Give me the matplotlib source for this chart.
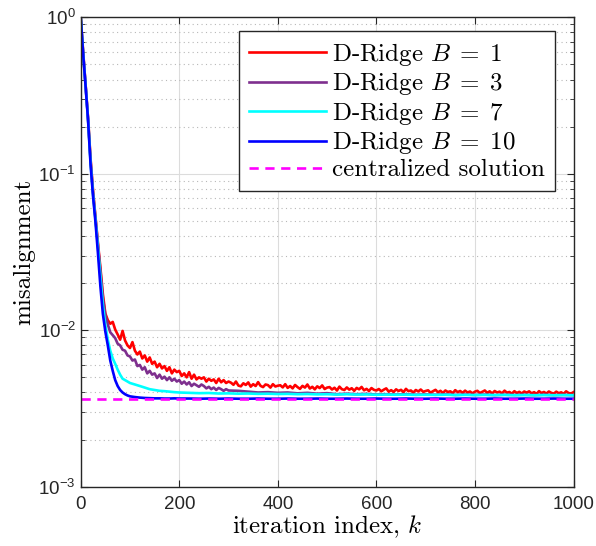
import matplotlib
matplotlib.use("Agg")
import matplotlib.pyplot as plt
from matplotlib.font_manager import FontProperties
from matplotlib.ticker import LogLocator, NullFormatter, FixedLocator

plt.rcParams['mathtext.fontset'] = 'custom'
plt.rcParams['mathtext.rm'] = 'Liberation Sans'
plt.rcParams['mathtext.it'] = 'Liberation Sans:italic'
plt.rcParams['font.family'] = ['Liberation Sans', 'DejaVu Sans']

# ---------------- data ----------------
k_red = list(range(0, 1001, 5))
red_e3 = [  # misalignment x 1e3
    1000, 600, 370, 225, 125, 78, 53, 36, 25, 17,
    12.8, 11.6, 11.0, 11.3, 10.1, 9.4, 8.7, 9.9, 8.6, 8.0,
    7.7, 8.4, 7.4, 7.0, 7.3, 6.6, 6.9, 6.3, 6.7, 6.1,
    6.3, 5.8, 6.1, 5.7, 5.9, 5.5, 5.8, 5.3, 5.6, 5.4,
    5.5, 5.1, 5.3, 5.0, 5.4, 4.9, 5.2, 4.85, 5.0, 4.9,
    5.0, 4.7, 4.9, 4.75, 4.85, 4.6, 4.9, 4.65, 4.8, 4.6,
    4.7,
    4.62, 4.48, 4.70, 4.43, 4.38, 4.58, 4.47, 4.64, 4.36, 4.52,
    4.40, 4.66, 4.41, 4.33, 4.50, 4.46, 4.30, 4.52, 4.37, 4.42,
    4.45, 4.31, 4.52, 4.28, 4.40, 4.25, 4.47, 4.33, 4.22, 4.41,
    4.30, 4.50, 4.24, 4.35, 4.19, 4.38, 4.27, 4.44, 4.21, 4.30,
    4.33, 4.18, 4.29, 4.12, 4.36, 4.20, 4.15, 4.31, 4.17, 4.26,
    4.10, 4.28, 4.19, 4.34, 4.13, 4.22, 4.09, 4.27, 4.16, 4.12,
    4.21, 4.07, 4.17, 4.25, 4.05, 4.14, 4.03, 4.19, 4.09, 4.16,
    4.02, 4.22, 4.08, 4.12, 4.00, 4.15, 4.06, 4.18, 4.04, 4.09,
    4.13, 3.99, 4.08, 4.16, 4.01, 4.10, 3.97, 4.12, 4.03, 4.07,
    3.96, 4.14, 4.02, 4.09, 3.98, 4.11, 4.00, 4.06, 3.95, 4.05,
    4.10, 3.97, 4.04, 4.12, 3.98, 4.07, 3.94, 4.09, 4.00, 4.05,
    3.95, 4.11, 3.99, 4.03, 3.93, 4.08, 3.97, 4.04, 3.94, 4.06,
    3.99, 4.07, 3.95, 4.02, 3.92, 4.08, 3.97, 4.03, 3.94, 4.06,
    3.98, 3.93, 4.05, 3.96, 4.01, 3.92, 4.07, 3.97, 3.94, 4.02,
]

k_purple = list(range(0, 301, 5)) + list(range(320, 1001, 20))
purple_e3 = [
    1000, 590, 365, 222, 122, 76, 52, 35, 24, 16,
    12.5, 10.9, 9.7, 9.3, 8.9, 8.2, 8.0, 7.5, 7.4, 6.9,
    6.8, 6.4, 6.5, 5.9, 6.0, 5.6, 5.8, 5.3, 5.5, 5.2,
    5.3, 4.95, 5.2, 4.9, 5.05, 4.8, 5.0, 4.75, 4.9, 4.7,
    4.8, 4.55, 4.7, 4.5, 4.65, 4.4, 4.55, 4.45, 4.35, 4.5,
    4.4, 4.25, 4.35, 4.2, 4.3, 4.15, 4.28, 4.2, 4.1, 4.2,
    4.12,
    4.10, 4.05, 4.00, 4.02, 3.98, 4.00, 3.95, 3.98, 3.93, 3.96,
    3.90, 3.93, 3.90, 3.92, 3.88, 3.90, 3.88, 3.90, 3.87, 3.89,
    3.87, 3.89, 3.86, 3.88, 3.86, 3.88, 3.85, 3.87, 3.86, 3.87,
    3.85, 3.87, 3.85, 3.86, 3.85,
]

k_smooth = list(range(0, 101, 5)) + list(range(110, 201, 10)) + list(range(220, 1001, 20))
cyan_e3 = [
    1000, 585, 362, 220, 118, 74, 51, 34, 22, 14.5,
    10.8, 8.7, 7.4, 6.6, 6.1, 5.6, 5.2, 4.9, 4.8, 4.7,
    4.6,
    4.5, 4.4, 4.3, 4.2, 4.15, 4.1, 4.08, 4.05, 4.02, 4.00,
    3.98, 3.96, 3.97, 3.94, 3.95, 3.93, 3.94, 3.92, 3.93, 3.91,
    3.92, 3.90, 3.91, 3.89, 3.90, 3.88, 3.90, 3.88, 3.89, 3.87,
    3.88, 3.87, 3.88, 3.86, 3.87, 3.86, 3.87, 3.85, 3.86, 3.85,
    3.86, 3.85, 3.86, 3.84, 3.85, 3.84, 3.85, 3.84, 3.85, 3.84,
]
blue_e3 = [
    1000, 580, 360, 218, 115, 72, 49, 31, 19, 12.7,
    9.8, 8.0, 6.4, 5.5, 4.8, 4.4, 4.15, 4.0, 3.9, 3.83,
    3.78,
    3.74, 3.71, 3.69, 3.68, 3.67, 3.67, 3.66, 3.66, 3.67, 3.66,
    3.66, 3.65, 3.66, 3.65, 3.66, 3.65, 3.65, 3.66, 3.65, 3.65,
    3.66, 3.65, 3.65, 3.66, 3.65, 3.65, 3.66, 3.65, 3.65, 3.66,
    3.65, 3.65, 3.66, 3.65, 3.65, 3.66, 3.65, 3.65, 3.66, 3.65,
    3.65, 3.66, 3.65, 3.65, 3.66, 3.65, 3.65, 3.66, 3.65, 3.65,
]

centralized_e3 = 3.62
x_range = [0, 1000]

labels = [r'D-Ridge $B\;=\;1$', r'D-Ridge $B\;=\;3$', r'D-Ridge $B\;=\;7$',
          r'D-Ridge $B\;=\;10$', 'centralized solution']
colors = ['#FF0000', '#7E2F8E', '#00FFFF', '#0000FF', '#FF00FF']

xticks = [0, 200, 400, 600, 800, 1000]
yticks = [1e-3, 1e-2, 1e-1, 1e0]


def scale(vals):
    return [v * 1e-3 for v in vals]


# ---------------- figure ----------------
fig = plt.figure(figsize=(5.96, 5.46), dpi=100)
ax = fig.add_axes([80.7 / 596, 1 - 486.7 / 546, 492.8 / 596, 469.4 / 546])

lw = 1.9
ax.plot(k_red, scale(red_e3), color=colors[0], lw=lw, label=labels[0])
ax.plot(k_purple, scale(purple_e3), color=colors[1], lw=lw, label=labels[1])
ax.plot(k_smooth, scale(cyan_e3), color=colors[2], lw=lw, label=labels[2])
ax.plot(k_smooth, scale(blue_e3), color=colors[3], lw=lw, label=labels[3])
ax.plot(x_range, scale([centralized_e3, centralized_e3]), color=colors[4], lw=lw,
        ls=(0, (3.5, 2.5)), label=labels[4])

ax.set_yscale('log')
ax.set_xlim(0, 1000)
ax.set_ylim(1e-3, 1)
ax.xaxis.set_major_locator(FixedLocator(xticks))
ax.yaxis.set_major_locator(FixedLocator(yticks))
ax.yaxis.set_minor_locator(LogLocator(base=10, subs=range(2, 10)))
ax.yaxis.set_minor_formatter(NullFormatter())

ax.grid(True, which='major', color='#DCDCDC', lw=0.8, ls='-')
ax.grid(True, which='minor', axis='y', color='#B8B8B8', lw=0.8, ls=(0, (1, 3)))
ax.set_axisbelow(True)

for s in ax.spines.values():
    s.set_color('#262626')
    s.set_linewidth(1.0)
ax.tick_params(which='both', direction='in', top=True, right=True, colors='#262626',
               labelcolor='#262626', labelsize=13.5)
ax.tick_params(which='major', length=5)
ax.tick_params(which='minor', length=3)
ax.tick_params(axis='x', pad=7)

lab_fp = FontProperties(family='cmr10', size=18, math_fontfamily='cm')
ax.set_xlabel(r'iteration index, $k$', fontproperties=lab_fp, labelpad=0)
ax.set_ylabel('misalignment', fontproperties=lab_fp, labelpad=2)

leg_fp = FontProperties(family='cmr10', size=18, math_fontfamily='cm')
leg = ax.legend(prop=leg_fp, loc='upper right', bbox_to_anchor=(0.962, 0.971),
                borderaxespad=0, fancybox=False, framealpha=1, edgecolor='#262626',
                handlelength=3.05, labelspacing=0.1, handletextpad=0.25,
                borderpad=0.4)
leg.get_frame().set_linewidth(1.0)

fig.savefig('out.png', dpi=100)
